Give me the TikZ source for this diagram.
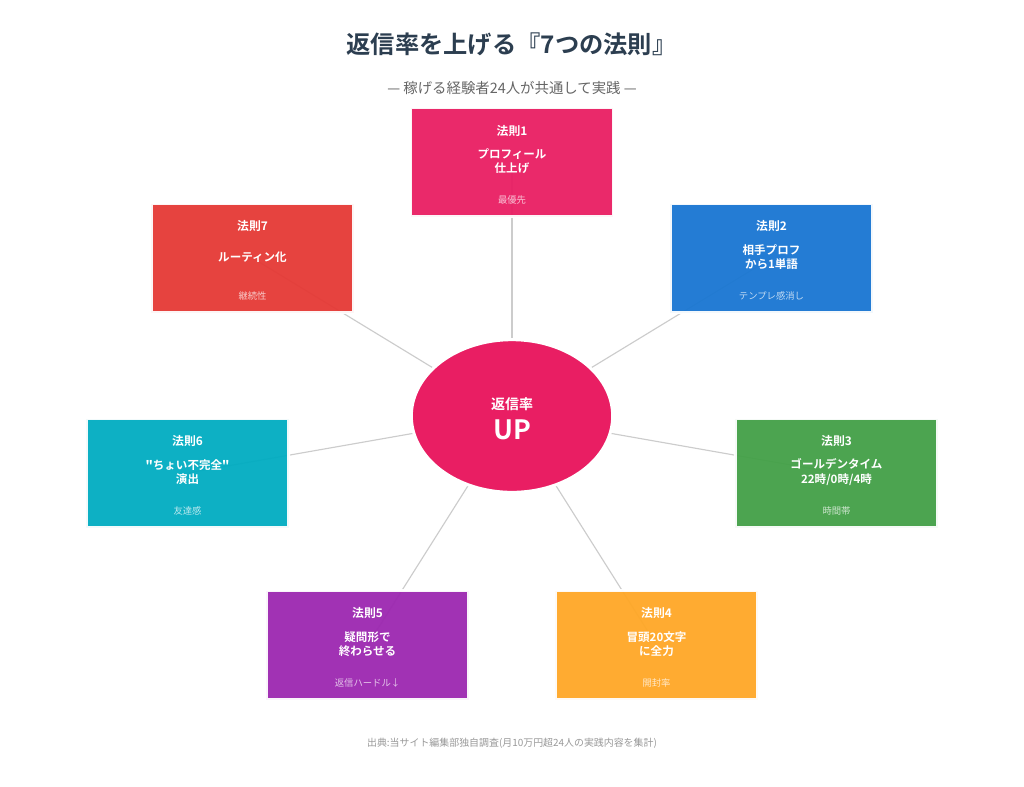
\documentclass[tikz,border=0pt]{standalone}
\usepackage{fontspec}
\setmainfont{Noto Sans CJK JP}[BoldFont={Noto Sans CJK JP Bold}]
\newfontfamily\plainbold{Noto Sans CJK JP Bold}
\usetikzlibrary{backgrounds,shapes.geometric}
\definecolor{cTitle}{HTML}{2C3E50}
\definecolor{cSub}{HTML}{666666}
\definecolor{cSrc}{HTML}{999999}
\definecolor{cLine}{HTML}{CCCCCC}
\definecolor{cA}{HTML}{E91E63}
\definecolor{cB}{HTML}{1976D2}
\definecolor{cC}{HTML}{43A047}
\definecolor{cD}{HTML}{FFA726}
\definecolor{cE}{HTML}{9C27B0}
\definecolor{cF}{HTML}{00ACC1}
\definecolor{cG}{HTML}{E53935}
\newcommand{\fs}[1]{\fontsize{#1}{#1}\selectfont}
\tikzset{
  x=0.75pt,y=-0.75pt,
  rulebox/.style={draw=white,line width=2.25pt,minimum width=151.9pt,minimum height=81.75pt,inner sep=0pt,opacity=0.95,fill=#1},
  head/.style={text=white,font=\bfseries\fs{8.9},inner sep=0pt},
  body/.style={text=white,font=\bfseries\fs{8.65},inner sep=0pt,align=center},
  note/.style={text=white,text opacity=0.72,font=\fs{7},inner sep=0pt},
  spoke/.style={draw=cLine,line width=0.85pt},
}
\begin{document}
\begin{tikzpicture}
\useasboundingbox (0,0) rectangle (1024,786);
\node[text=cTitle,font=\bfseries\fs{18.2},inner sep=0pt] (title) at (511.5,44.5) {返信率を上げる『7つの法則』};
\node[text=cSub,font=\fs{10.8},inner sep=0pt] (sub) at (512,88) {— 稼げる経験者24人が共通して実践 —};
\node[draw=white,line width=2.25pt,fill=cA,ellipse,minimum width=151pt,minimum height=114.5pt,inner sep=0pt] (hub) at (512,416) {};
\node[text=white,font=\bfseries\fs{10.5},inner sep=0pt] (hubA) at (512,404) {返信率};
\node[text=white,font=\bfseries\fs{20},inner sep=0pt] (hubB) at (512,429.5) {UP};
\node[rulebox=cA] (r1) at (512,162) {};
\node[rulebox=cB] (r2) at (771.5,258) {};
\node[rulebox=cC] (r3) at (836.5,473) {};
\node[rulebox=cD] (r4) at (656.5,645) {};
\node[rulebox=cE] (r5) at (367.5,645) {};
\node[rulebox=cF] (r6) at (187.5,473) {};
\node[rulebox=cG] (r7) at (252.5,258) {};
\begin{scope}[on background layer]
\fill[white] (0,0) rectangle (1024,786);
\foreach \n in {r1,r2,r3,r4,r5,r6,r7} \draw[spoke] (hub.center) -- (\n.center);
\end{scope}
\node[head] (h1) at (512,131) {法則1};
\node[body] (b1) at (512,161) {プロフィール\\[2.2pt]仕上げ};
\node[note] (n1) at (512,200) {最優先};
\node[head] (h2) at (771.5,226) {法則2};
\node[body] (b2) at (771.5,257) {相手プロフ\\[2.2pt]から1単語};
\node[note] (n2) at (771.5,296) {テンプレ感消し};
\node[head] (h3) at (836.5,441) {法則3};
\node[body] (b3) at (836.5,472) {ゴールデンタイム\\[2.2pt]22時/0時/4時};
\node[note] (n3) at (836.5,511) {時間帯};
\node[head] (h4) at (656.5,613) {法則4};
\node[body] (b4) at (656.5,644) {冒頭20文字\\[2.2pt]に全力};
\node[note] (n4) at (656.5,683) {開封率};
\node[head] (h5) at (367.5,613) {法則5};
\node[body] (b5) at (367.5,644) {疑問形で\\[2.2pt]終わらせる};
\node[note] (n5) at (367.5,683) {返信ハードル↓};
\node[head] (h6) at (187.5,441) {法則6};
\node[body] (b6) at (187.5,472) {{\plainbold "}ちょい不完全{\plainbold "}\\[2.2pt]演出};
\node[note] (n6) at (187.5,511) {友達感};
\node[head] (h7) at (252.5,226) {法則7};
\node[body] (b7) at (252.5,257) {ルーティン化};
\node[note] (n7) at (252.5,296) {継続性};
\node[text=cSrc,font=\fs{7.45},inner sep=0pt] (src) at (512,743) {出典:当サイト編集部独自調査(月10万円超24人の実践内容を集計)};
\end{tikzpicture}
\end{document}
